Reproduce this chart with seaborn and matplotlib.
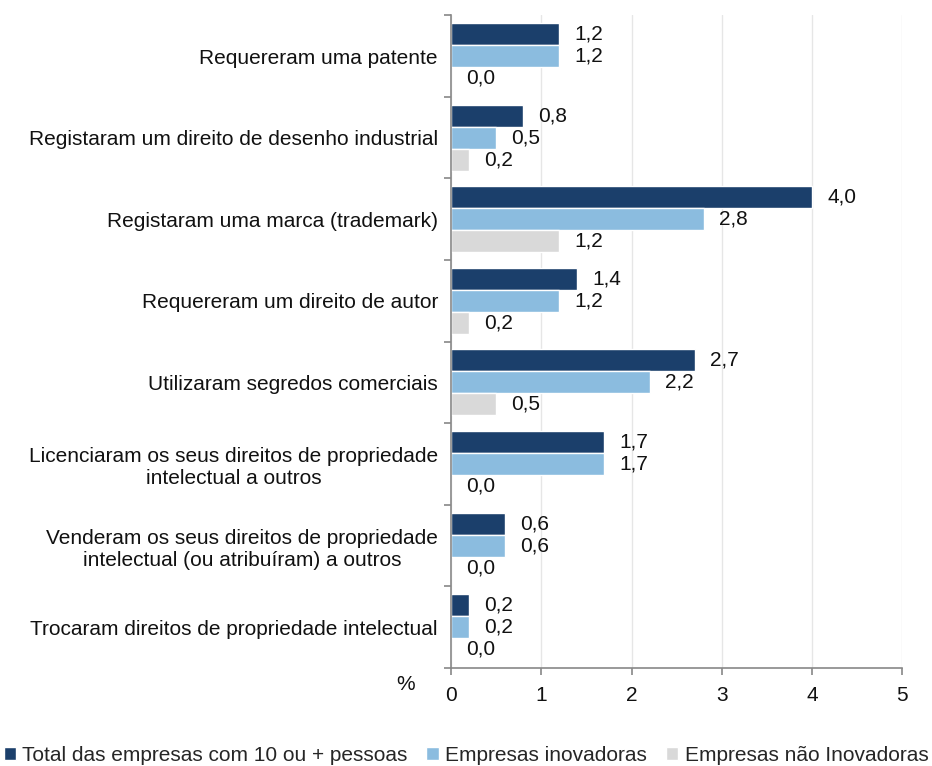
import numpy as np
import pandas as pd
import matplotlib
matplotlib.use("Agg")
import matplotlib.pyplot as plt
import seaborn as sns

categories = [
    "Requereram uma patente",
    "Registaram um direito de desenho industrial",
    "Registaram uma marca (trademark)",
    "Requereram um direito de autor",
    "Utilizaram segredos comerciais",
    "Licenciaram os seus direitos de propriedade\nintelectual a outros",
    "Venderam os seus direitos de propriedade\nintelectual (ou atribuíram) a outros",
    "Trocaram direitos de propriedade intelectual",
]
series = [
    "Total das empresas com 10 ou + pessoas",
    "Empresas inovadoras",
    "Empresas não Inovadoras",
]
total = [1.2, 0.8, 4.0, 1.4, 2.7, 1.7, 0.6, 0.2]
inovadoras = [1.2, 0.5, 2.8, 1.2, 2.2, 1.7, 0.6, 0.2]
nao_inovadoras = [0.0, 0.2, 1.2, 0.2, 0.5, 0.0, 0.0, 0.0]
colors = ["#1b3f6b", "#8bbcdf", "#d9d9d9"]

df = pd.DataFrame({
    "categoria": categories * 3,
    "serie": [s for s in series for _ in categories],
    "valor": total + inovadoras + nao_inovadoras,
})

sns.set_style("white")
plt.rcParams["font.family"] = ["Liberation Sans", "DejaVu Sans"]
fs = 15

fig = plt.figure(figsize=(9.32, 7.66), dpi=100)
ax = fig.add_axes([0.484, 0.128, 0.484, 0.852])

sns.barplot(data=df, y="categoria", x="valor", hue="serie", order=categories,
            hue_order=series, palette=colors, orient="h", width=0.81,
            saturation=1, ax=ax, legend=True)

for cont in ax.containers:
    labels = [f"{v:.1f}".replace(".", ",") for v in cont.datavalues]
    ax.bar_label(cont, labels=labels, padding=11, fontsize=fs, color="#111111")

ax.set_xlim(0, 5)
ax.set_ylim(len(categories) - 0.5, -0.5)
ax.set_xticks(range(6))
ax.set_xlabel("")
ax.set_ylabel("")
ax.grid(axis="x", color="#e6e6e6", linewidth=1)
ax.set_axisbelow(True)

for side in ["top", "right"]:
    ax.spines[side].set_visible(False)
for side in ["left", "bottom"]:
    ax.spines[side].set_color("#888888")
    ax.spines[side].set_linewidth(1.2)

# ticks only at the boundaries between categories
ax.tick_params(axis="y", which="major", left=False, pad=6, labelsize=fs, labelcolor="#111111")
for lab in ax.get_yticklabels():
    lab.set_multialignment("center")
ax.set_yticks(np.arange(-0.5, len(categories)), minor=True)
ax.tick_params(axis="y", which="minor", left=True, length=5, color="#888888", width=1.2)
ax.tick_params(axis="x", which="major", bottom=True, length=5, color="#888888", width=1.2,
               labelsize=fs, pad=8, labelcolor="#111111")

ax.text(-0.08, -0.025, "%", transform=ax.transAxes, ha="right", va="center", fontsize=fs,
        color="#111111")

ax.legend(loc="center", bbox_to_anchor=(0.5, 0.014), bbox_transform=fig.transFigure,
          ncol=3, frameon=False, fontsize=fs, handlelength=0.6, handleheight=0.6,
          handletextpad=0.3, columnspacing=0.9, borderaxespad=0)

fig.savefig("out.png", dpi=100)
